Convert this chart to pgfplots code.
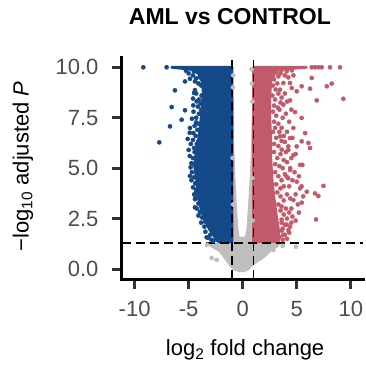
\documentclass[border=0pt]{standalone}
\usepackage{fontspec}
\setmainfont{Liberation Sans}
\usepackage{pgfplots}
\pgfplotsset{compat=1.18}
\definecolor{upred}{RGB}{193,90,107}
\definecolor{downblue}{RGB}{20,73,138}
\definecolor{nsgrey}{RGB}{190,190,190}
\definecolor{tickgrey}{RGB}{77,77,77}
\begin{document}
\begin{tikzpicture}
\useasboundingbox (-122pt,-87.9pt) rectangle (244pt,279.1pt);
\begin{axis}[
  at={(0pt,0pt)}, anchor=south west,
  scale only axis, width=241.4pt, height=221.9pt,
  xmin=-11.17, xmax=11.17, ymin=-0.5, ymax=10.5,
  axis x line*=bottom, axis y line*=left,
  axis line style={line width=3pt, black, -, line cap=rect},
  xtick={-10,-5,0,5,10}, xticklabels={-10,-5,0,5,10},
  ytick={0,2.5,5,7.5,10}, yticklabels={0.0,2.5,5.0,7.5,10.0},
  tick align=outside, major tick length=10pt,
  major tick style={line width=3pt, color=black!80},
  ticklabel style={font=\fontsize{22}{26}\selectfont, text=tickgrey},
  xticklabel style={yshift=-9pt},
  yticklabel style={xshift=-10pt},
  xlabel={log\textsubscript{2} fold change},
  ylabel={−log\textsubscript{10} adjusted \textit{P}},
  label style={font=\fontsize{22}{26}\selectfont},
  xlabel style={at={(axis description cs:0.51,-0.32)}, anchor=center},
  ylabel style={at={(axis description cs:-0.41,0.508)}, anchor=center},
  title={AML vs CONTROL},
  title style={at={(axis description cs:0.447,1.158)}, anchor=center, font=\fontsize{23}{27}\selectfont\bfseries},
]
% non-significant core
\addplot[fill=nsgrey, draw=none] coordinates {
(-1.02,8.5) (-0.82,8.5) (-0.78,6) (-0.63,4) (-0.5,2.8) (-0.4,2.0) (-0.3,1.6) (0.2,1.6) (0.35,2.0) (0.45,2.8) (0.6,4) (0.78,6) (0.82,7.5) (1.02,7.5) (1.0,1.28) (3.5,1.28) (3.3,1.1) (2.6,0.85) (1.9,0.5) (1.0,0.2) (0.6,-0.05) (0.1,-0.17) (-0.4,-0.14) (-0.9,-0.05) (-1.3,0.2) (-1.7,0.5) (-2.2,0.85) (-3.0,1.1) (-3.2,1.28) (-1.0,1.28)
} -- cycle;
% down-regulated core
\addplot[fill=downblue, draw=downblue, line width=2.8pt, line join=round] coordinates {
(-1,10) (-6.57,10) (-4.8,9.9) (-4.1,9.7) (-3.75,9.3) (-3.65,8.8) (-3.75,8.0) (-3.9,7.2) (-4.05,6.5) (-4.3,5.8) (-4.45,5.1) (-4.25,4.4) (-4.15,3.6) (-3.85,3.0) (-3.55,2.5) (-3.1,2.0) (-2.6,1.6) (-2.3,1.37) (-1,1.37)
} -- cycle;
% up-regulated core
\addplot[fill=upred, draw=upred, line width=2.8pt, line join=round] coordinates {
(1,10) (5.9,10) (3.4,9.9) (2.9,9.7) (2.6,9.3) (2.5,8.5) (2.5,7.5) (2.6,6.5) (2.6,5.5) (2.7,4.5) (2.9,3.5) (3.1,2.7) (3.3,2.0) (3.3,1.37) (1,1.37)
} -- cycle;
% down-regulated genes
\addplot[only marks, color=downblue, mark=*, mark size=2.1pt] coordinates {
(-9.2,10) (-7.04,10) (-5.25,9.83) (-5.34,9.3) (-4.88,9.43) (-4.42,9.3) (-6.27,8.86) (-4.42,8.87) (-4.5,8.73)
(-6.57,8.03) (-5.34,7.87) (-4.26,8.31) (-4.57,8.11) (-5.65,7.4) (-4.32,7.27) (-6.73,7.07) (-4.88,6.99)
(-4.57,6.74) (-5.09,6.45) (-7.72,6.28) (-4.11,6.33) (-4.82,5.04) (-4.88,4.61) (-4.32,3.92) (-4.42,3.46)
(-4.42,3.06) (-3.95,2.84) (-3.49,2.35) (-3.33,1.57)
(-3.9,9.8) (-4.2,9.85) (-4.5,9.8) (-3.95,9.5) (-4.3,9.45) (-3.85,9.1) (-4.1,9.2) (-4.6,9.6) (-5.0,9.7)
(-3.8,8.6) (-4.05,8.4) (-3.9,8.2) (-4.3,8.7) (-4.6,8.45) (-3.85,7.9) (-4.15,8.05)
(-4.05,7.7) (-4.3,7.5) (-4.1,7.2) (-4.55,7.8) (-4.45,7.1) (-4.7,7.45)
(-4.2,6.9) (-4.35,6.6) (-4.25,6.2) (-4.6,6.4) (-4.5,6.0) (-4.8,6.2) (-4.9,6.75)
(-4.45,5.8) (-4.6,5.5) (-4.75,5.25) (-4.5,5.2) (-4.9,5.6) (-5.0,5.9)
(-4.7,4.8) (-4.5,4.55) (-4.4,4.25) (-4.6,4.05) (-4.75,4.4)
(-4.3,3.8) (-4.35,3.55) (-4.1,3.25) (-4.5,3.7) (-4.25,3.0)
(-3.95,2.8) (-3.75,2.55) (-3.85,2.3) (-3.55,2.1) (-4.1,2.65) (-3.45,1.85)
(-3.0,1.7) (-2.9,1.45) (-3.2,1.55) (-2.7,1.4)
};
% up-regulated genes
\addplot[only marks, color=upred, mark=*, mark size=2.1pt] coordinates {
(6.39,10) (6.69,10) (7.0,10) (7.31,10) (8.08,10) (9.01,10)
(2.83,9.63) (3.61,9.88) (4.07,9.8) (4.54,9.85) (4.69,9.6) (4.22,9.5) (6.39,9.47) (3.76,9.22) (4.38,9.22)
(5.46,9.06) (6.23,8.94) (7.78,9.06) (8.24,9.19) (5.0,8.81) (4.54,8.97) (3.45,8.89) (4.38,8.36) (6.85,8.36)
(9.31,8.44) (4.84,7.78) (3.76,8.15) (5.46,7.49) (4.69,6.99) (5.77,6.74) (3.45,6.58) (4.38,6.49) (5.46,6.33)
(6.08,6.25) (5.0,6.08) (4.22,6.08) (6.23,6.0) (3.61,5.92)
(4.22,5.9) (4.69,5.65) (5.31,5.16) (4.38,4.91) (7.47,4.12) (6.69,3.75) (7.0,3.62) (5.93,3.83) (5.46,3.29)
(4.69,3.42) (6.79,2.46) (4.38,2.1) (4.22,1.93) (3.76,1.69) (4.07,4.58) (5.0,4.33) (5.31,4.0)
(3.6,2.45) (4.07,2.2) (5.52,5.16) (5.45,4.1)
(3.1,9.75) (3.3,9.55) (2.9,9.4) (3.5,9.7) (3.9,9.6) (3.2,9.2) (2.8,9.1) (3.05,8.9)
(2.75,8.6) (3.0,8.4) (3.3,8.7) (3.6,8.5) (2.9,8.1) (3.25,8.0) (3.9,8.7) (4.1,8.3) (3.5,8.25)
(2.8,7.8) (3.1,7.6) (3.4,7.9) (3.7,7.5) (4.0,7.7) (2.9,7.3) (3.3,7.2) (3.6,7.0) (4.3,7.3) (4.5,7.9) (3.0,7.0)
(2.8,6.8) (3.1,6.5) (3.4,6.8) (3.8,6.6) (2.9,6.2) (3.3,6.1) (3.9,6.3) (4.1,6.8) (4.6,6.5) (3.6,6.35)
(2.9,5.8) (3.2,5.5) (3.5,5.7) (3.8,5.4) (4.0,5.8) (3.0,5.2) (3.4,5.1) (3.7,5.0) (4.1,5.3) (4.5,5.5) (4.9,5.7) (4.4,5.0)
(3.0,4.8) (3.3,4.6) (3.6,4.4) (3.9,4.7) (4.2,4.5) (3.1,4.2) (3.5,4.0) (3.8,4.1) (4.6,4.4) (4.8,4.8) (5.2,4.6) (4.3,4.1)
(3.2,3.8) (3.5,3.6) (3.8,3.4) (4.1,3.7) (4.4,3.5) (3.3,3.2) (3.6,3.1) (4.0,3.0) (4.9,3.7) (5.1,3.2) (4.5,3.0) (5.6,3.6)
(3.5,2.9) (3.8,2.7) (4.1,2.5) (3.6,2.3) (3.9,2.2) (4.3,2.8) (4.6,2.6) (4.9,2.4) (4.5,2.3) (5.2,2.8) (3.7,2.0)
(3.6,1.9) (3.9,1.7) (4.1,1.5) (3.7,1.45) (4.3,1.8) (3.4,1.6)
};
% non-significant genes
\addplot[only marks, color=nsgrey, mark=*, mark size=2.1pt] coordinates {
(-0.9,9.0) (-0.88,9.6) (0.85,9.2) (0.83,9.9) (0.9,8.3) (-0.92,5.5) (-0.9,3.2) (0.9,4.5) (0.92,2.4)
(-2.87,0.55) (-2.41,0.45) (4.93,1.1) (2.83,0.94) (3.7,1.15) (-3.3,1.2)
};
% thresholds
\addplot[black, line width=1.9pt, dash pattern=on 9pt off 5pt] coordinates {(-1,-0.5) (-1,10.5)};
\addplot[black, line width=1.9pt, dash pattern=on 9pt off 5pt] coordinates {(1,-0.5) (1,10.5)};
\addplot[black, line width=1.9pt, dash pattern=on 9pt off 5pt] coordinates {(-11.17,1.301) (11.17,1.301)};
\end{axis}
\end{tikzpicture}
\end{document}
